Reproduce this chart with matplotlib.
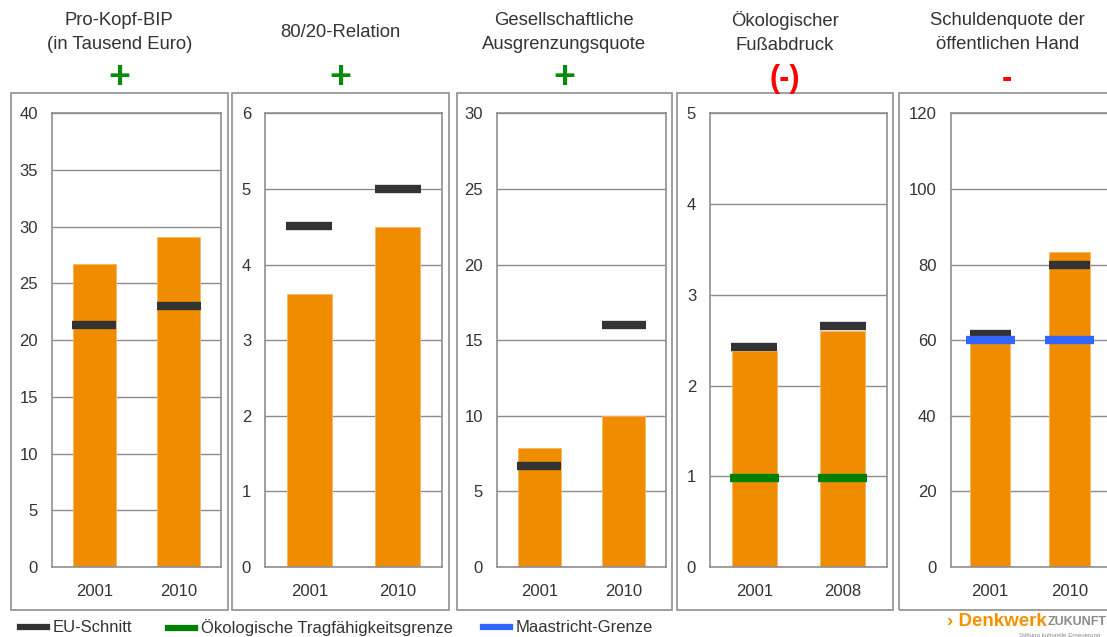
#!/usr/bin/env python3
"""
Nachhaltigkeitsindikatoren: fuenf Kennzahlen im Zeitvergleich mit EU-Schnitt
und Grenzwerten, als Reihe kleiner Saeulendiagramme.
"""

import matplotlib
matplotlib.use('Agg')
import matplotlib.pyplot as plt
from matplotlib.lines import Line2D
from matplotlib.patches import Rectangle

plt.rcParams['font.family'] = ['Liberation Sans', 'DejaVu Sans']

# Kennzahlen
titles = [
    "Pro-Kopf-BIP\n(in Tausend Euro)",
    "80/20-Relation",
    "Gesellschaftliche\nAusgrenzungsquote",
    "Ökologischer\nFußabdruck",
    "Schuldenquote der\nöffentlichen Hand",
]
signs = ["+", "+", "+", "(-)", "-"]
years = [
    ["2001", "2010"],
    ["2001", "2010"],
    ["2001", "2010"],
    ["2001", "2008"],
    ["2001", "2010"],
]
values = [
    [26.7, 29.1],
    [3.61, 4.5],
    [7.9, 10.0],
    [2.38, 2.6],
    [60.3, 83.2],
]
eu_avg = [
    [21.3, 23.0],
    [4.51, 5.0],
    [6.67, 16.0],
    [2.43, 2.66],
    [61.6, 80.0],
]
footprint_limit = [0.98, 0.98]   # nur Panel 4
maastricht = [60, 60]            # nur Panel 5
y_max = [40, 6, 30, 5, 120]
y_step = [5, 1, 5, 1, 20]

ORANGE = '#F08C00'
EU_GREY = '#333333'
LIMIT_GREEN = '#008000'
LIMIT_BLUE = '#3366FF'
TEXT = '#333333'
FRAME = '#8f8f8f'
GRID = '#8c8c8c'
PLUS = '#0A8A0A'
MINUS = '#FF0000'

W, H = 1107, 637
fig = plt.figure(figsize=(W / 100, H / 100), dpi=100)
fig.patch.set_facecolor('white')

# Pixel-Layout der Panels (Rahmen und Achsenflaeche)
frames_x = [(10.7, 227.7), (232.3, 449.3), (456.7, 671.7), (677.3, 893.0), (899.3, 1115.0)]
axes_x = [(52, 221), (265, 442), (497, 666), (710, 887), (950.5, 1109)]
frame_top, frame_bot = 93.3, 609.5
ax_top, ax_bot = 113.3, 567.0


def fx(px):
    return px / W


def fy(py):
    return 1 - py / H


for i in range(5):
    x0, x1 = frames_x[i]
    fig.patches.append(Rectangle((fx(x0), fy(frame_bot)), fx(x1 - x0), (frame_bot - frame_top) / H,
                                 transform=fig.transFigure, fill=False, edgecolor=FRAME, lw=1.2))
    cx = fx((x0 + x1) / 2)
    fig.text(cx, fy(32.5), titles[i], ha='center', va='center', fontsize=13.3,
             color=TEXT, linespacing=1.55)
    if signs[i] == "+":
        fig.text(cx, fy(78), signs[i], ha='center', va='center', fontsize=27,
                 fontweight='bold', color=PLUS)
    else:
        fig.text(cx, fy(79), signs[i], ha='center', va='center', fontsize=22,
                 fontweight='bold', color=MINUS)

    a0, a1 = axes_x[i]
    ax = fig.add_axes([fx(a0), fy(ax_bot), fx(a1 - a0), (ax_bot - ax_top) / H])
    pos = list(range(len(years[i])))
    ax.bar(pos, values[i], width=0.51, color=ORANGE, edgecolor='#F6B760', linewidth=0.6, zorder=2)
    for p, v in zip(pos, eu_avg[i]):
        ax.hlines(v, p - 0.26, p + 0.26, color=EU_GREY, lw=6, zorder=3)
    if i == 3:
        for p, v in zip(pos, footprint_limit):
            ax.hlines(v, p - 0.275, p + 0.275, color=LIMIT_GREEN, lw=6, zorder=4)
    if i == 4:
        for p, v in zip(pos, maastricht):
            ax.hlines(v, p - 0.31, p + 0.31, color=LIMIT_BLUE, lw=6, zorder=4)

    ax.set_xlim(-0.5, 1.5)
    ax.set_ylim(0, y_max[i])
    ax.set_yticks(range(0, y_max[i] + 1, y_step[i]))
    ax.set_xticks(pos)
    ax.set_xticklabels(years[i])
    ax.tick_params(length=0, labelsize=12, labelcolor=TEXT)
    ax.tick_params(axis='y', pad=10)
    ax.tick_params(axis='x', pad=12.5)
    ax.yaxis.grid(True, color=GRID, lw=1)
    ax.set_axisbelow(True)
    for spine in ax.spines.values():
        spine.set_color(FRAME)
        spine.set_linewidth(1.2)

# Legende: drei Eintraege, jeder an seiner eigenen Position
legend_items = [
    (EU_GREY, "EU-Schnitt", 20),
    (LIMIT_GREEN, "Ökologische Tragfähigkeitsgrenze", 168),
    (LIMIT_BLUE, "Maastricht-Grenze", 483),
]
for color, label, x_px in legend_items:
    leg = fig.legend([Line2D([], [], color=color, lw=4.5)], [label], loc='center left',
                     bbox_to_anchor=(fx(x_px), fy(628)), frameon=False, fontsize=12,
                     handlelength=1.6, handletextpad=0.36, borderpad=0, borderaxespad=0)
    for t in leg.get_texts():
        t.set_color(TEXT)

# Logo
fig.text(fx(1047), fy(621), "› Denkwerk", ha='right', va='center', fontsize=13.5,
         fontweight='bold', color='#F39200')
fig.text(fx(1048), fy(622), "ZUKUNFT", ha='left', va='center', fontsize=9,
         fontweight='bold', color='#8a8a8a')
fig.text(fx(1100), fy(635), "Stiftung kulturelle Erneuerung", ha='right', va='center',
         fontsize=4.5, color='#8a8a8a')

fig.savefig('out.png', dpi=100, facecolor='white')
plt.close(fig)
